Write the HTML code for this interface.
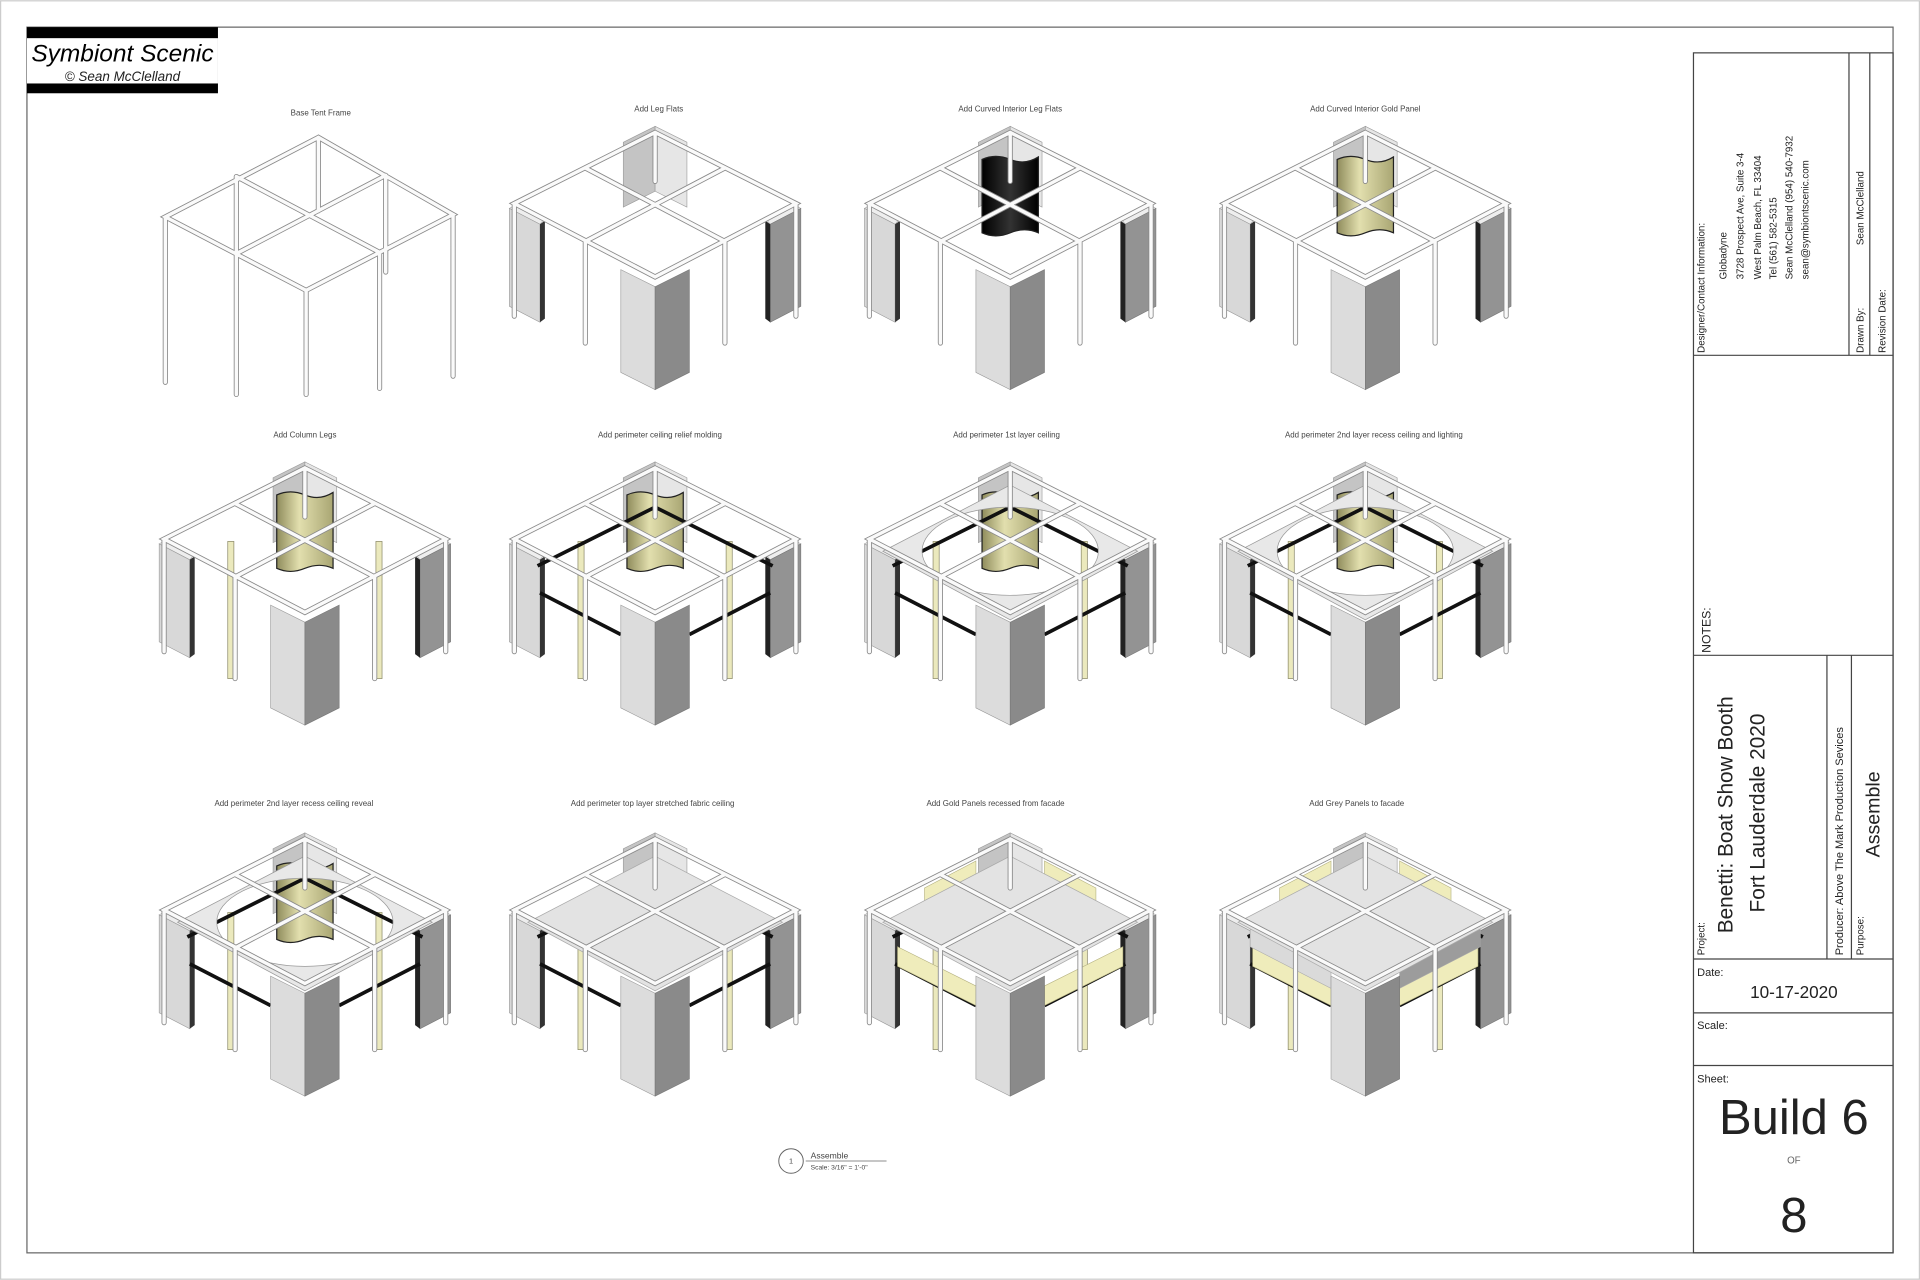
<!DOCTYPE html>
<html><head><meta charset="utf-8"><style>
html,body{margin:0;padding:0;background:#fff;}
svg{display:block;}
text{font-family:"Liberation Sans",sans-serif;}
</style></head><body>
<svg width="1920" height="1280" viewBox="0 0 1568 1045" xmlns="http://www.w3.org/2000/svg">
<defs>
<linearGradient id="gold" x1="0" x2="1"><stop offset="0" stop-color="#8f8c5c"/><stop offset=".4" stop-color="#e2dfae"/><stop offset="1" stop-color="#a9a673"/></linearGradient>
<linearGradient id="blk" x1="0" x2="1"><stop offset="0" stop-color="#000"/><stop offset=".5" stop-color="#333"/><stop offset="1" stop-color="#000"/></linearGradient>
<g id="backcol">
<polygon points="-26,8 0,-5 0,48 -26,61" fill="#c4c4c4" stroke="#999" stroke-width=".5"/>
<polygon points="0,-5 26,8 26,61 0,48" fill="#e6e6e6" stroke="#999" stroke-width=".5"/>
</g>
<g id="walls">
<polygon points="-119,62 -112,58 -90,70 -94,75" fill="#eee" stroke="#aaa" stroke-width=".5"/>
<polygon points="-119,62 -94,75 -94,155 -119,142" fill="#d8d8d8" stroke="#999" stroke-width=".5"/>
<polygon points="-94,75 -90,72 -90,152 -94,155" fill="#333"/>
<polygon points="119,62 112,58 90,70 94,75" fill="#eee" stroke="#aaa" stroke-width=".5"/>
<polygon points="94,75 119,62 119,142 94,155" fill="#939393" stroke="#777" stroke-width=".5"/>
<polygon points="94,75 90,72 90,152 94,155" fill="#222"/>
</g>
<g id="frontcol">
<polygon points="-28,112 0,126 0,210 -28,196" fill="#dcdcdc" stroke="#999" stroke-width=".5"/>
<polygon points="0,126 28,112 28,196 0,210" fill="#8a8a8a" stroke="#777" stroke-width=".5"/>
</g>
<path id="curve" d="M-23,22 Q-12,17 0,22 T23,20 L23,82 Q12,77 0,82 T-23,82 Z" stroke="#222" stroke-width="1"/>
<g id="goldlegs" fill="#ebe9bd" stroke="#8d8b6a" stroke-width=".6">
<rect x="-63" y="60" width="5" height="112"/>
<rect x="58" y="60" width="5" height="112"/>
</g>
<g id="beam" fill="none" stroke="#111" stroke-width="3">
<polyline points="-96,80 0,32 96,80"/>
<polyline points="-94,102 -28,136"/>
<polyline points="94,102 28,136"/>
</g>
<path id="ring" d="M0,14 L-104,68 L0,124 L104,68 Z M-72,68 A72,36 0 1 0 72,68 A72,36 0 1 0 -72,68 Z" fill="#e8e8e8" fill-rule="evenodd" stroke="#999" stroke-width=".6"/>
<polygon id="fabric" points="0,14 -104,68 0,124 104,68" fill="#e3e3e3" stroke="#aaa" stroke-width=".6"/>
<g id="goldfac" fill="#efecbb" stroke="#b4b180" stroke-width=".5">
<polygon points="-92,88 -28,120 -28,136 -92,104"/>
<polygon points="92,88 28,120 28,136 92,104"/>
<polygon points="-70,40 -28,18 -28,30 -70,52"/>
<polygon points="70,40 28,18 28,30 70,52"/>
</g>
<g id="greyfac" stroke="#aaa" stroke-width=".5">
<polygon points="-94,72 -28,106 -28,122 -94,88" fill="#dadada"/>
<polygon points="94,72 28,106 28,122 94,88" fill="#9c9c9c"/>
</g>
<g id="frame" fill="none" stroke-linecap="round">
<g stroke="#8a8a8a" stroke-width="4.2">
<path d="M0,0 L-115,58 L0,118 L115,58 Z M-57,29 L57,89 M57,29 L-57,89 M-115,58 V150 M115,58 V150 M-57,89 V172 M57,89 V172 M0,0 V40"/>
</g>
<g stroke="#fafafa" stroke-width="2.8">
<path d="M0,0 L-115,58 L0,118 L115,58 Z M-57,29 L57,89 M57,29 L-57,89 M-115,58 V150 M115,58 V150 M-57,89 V172 M57,89 V172 M0,0 V40"/>
</g>
</g>
<g id="frame1" fill="none" stroke-linecap="round">
<g stroke="#8a8a8a" stroke-width="4.2">
<path d="M10,0 L-115,65 L0,125 L120,63 Z M-57,32 L60,94 M65,31 L-57,95 M-115,65 V200 M120,63 V195 M-57,95 V210 M60,94 V205 M0,125 V210 M10,0 V60 M-57,32 V110 M65,31 V110"/>
</g>
<g stroke="#fafafa" stroke-width="2.8">
<path d="M10,0 L-115,65 L0,125 L120,63 Z M-57,32 L60,94 M65,31 L-57,95 M-115,65 V200 M120,63 V195 M-57,95 V210 M60,94 V205 M0,125 V210 M10,0 V60 M-57,32 V110 M65,31 V110"/>
</g>
</g>
</defs>

<!-- border -->
<rect x="22" y="22" width="1524" height="1001" fill="none" stroke="#666" stroke-width="1"/>
<rect x="0.5" y="0.5" width="1567" height="1044" fill="none" stroke="#ccc" stroke-width="1"/>

<!-- logo -->
<rect x="22" y="22" width="156" height="54" fill="#000"/>
<rect x="22" y="31" width="156" height="37" fill="#fff"/>
<text x="100" y="50" text-anchor="middle" font-family="Liberation Serif,serif" font-style="italic" font-size="20" fill="#000">Symbiont Scenic</text>
<text x="100" y="66" text-anchor="middle" font-family="Liberation Serif,serif" font-style="italic" font-size="11" fill="#222">© Sean McClelland</text>

<!-- labels -->
<g font-size="6.5" fill="#444" text-anchor="middle">
<text x="262" y="94">Base Tent Frame</text>
<text x="538" y="91">Add Leg Flats</text>
<text x="825" y="91">Add Curved Interior Leg Flats</text>
<text x="1115" y="91">Add Curved Interior Gold Panel</text>
<text x="249" y="357">Add Column Legs</text>
<text x="539" y="357">Add perimeter ceiling relief molding</text>
<text x="822" y="357">Add perimeter 1st layer ceiling</text>
<text x="1122" y="357">Add perimeter 2nd layer recess ceiling and lighting</text>
<text x="240" y="658">Add perimeter 2nd layer recess ceiling reveal</text>
<text x="533" y="658">Add perimeter top layer stretched fabric ceiling</text>
<text x="813" y="658">Add Gold Panels recessed from facade</text>
<text x="1108" y="658">Add Grey Panels to facade</text>
</g>

<!-- row 1 -->
<g transform="translate(250,112)"><use href="#frame1"/></g>
<g transform="translate(535,108)"><use href="#backcol"/><use href="#walls"/><use href="#frame"/><use href="#frontcol"/></g>
<g transform="translate(825,108)"><use href="#backcol"/><use href="#curve" fill="url(#blk)"/><use href="#walls"/><use href="#frame"/><use href="#frontcol"/></g>
<g transform="translate(1115,108)"><use href="#backcol"/><use href="#curve" fill="url(#gold)"/><use href="#walls"/><use href="#frame"/><use href="#frontcol"/></g>

<!-- row 2 -->
<g transform="translate(249,382)"><use href="#backcol"/><use href="#curve" fill="url(#gold)"/><use href="#walls"/><use href="#goldlegs"/><use href="#frame"/><use href="#frontcol"/></g>
<g transform="translate(535,382)"><use href="#backcol"/><use href="#curve" fill="url(#gold)"/><use href="#walls"/><use href="#goldlegs"/><use href="#beam"/><use href="#frame"/><use href="#frontcol"/></g>
<g transform="translate(825,382)"><use href="#backcol"/><use href="#curve" fill="url(#gold)"/><use href="#walls"/><use href="#goldlegs"/><use href="#beam"/><use href="#ring"/><use href="#frame"/><use href="#frontcol"/></g>
<g transform="translate(1115,382)"><use href="#backcol"/><use href="#curve" fill="url(#gold)"/><use href="#walls"/><use href="#goldlegs"/><use href="#beam"/><use href="#ring"/><use href="#frame"/><use href="#frontcol"/></g>

<!-- row 3 -->
<g transform="translate(249,685)"><use href="#backcol"/><use href="#curve" fill="url(#gold)"/><use href="#walls"/><use href="#goldlegs"/><use href="#beam"/><use href="#ring"/><use href="#frame"/><use href="#frontcol"/></g>
<g transform="translate(535,685)"><use href="#backcol"/><use href="#walls"/><use href="#goldlegs"/><use href="#beam"/><use href="#fabric"/><use href="#frame"/><use href="#frontcol"/></g>
<g transform="translate(825,685)"><use href="#backcol"/><use href="#walls"/><use href="#goldlegs"/><use href="#beam"/><use href="#goldfac"/><use href="#fabric"/><use href="#frame"/><use href="#frontcol"/></g>
<g transform="translate(1115,685)"><use href="#backcol"/><use href="#walls"/><use href="#goldlegs"/><use href="#beam"/><use href="#goldfac"/><use href="#greyfac"/><use href="#fabric"/><use href="#frame"/><use href="#frontcol"/></g>

<!-- callout -->
<circle cx="646" cy="948" r="10" fill="none" stroke="#666" stroke-width=".8"/>
<text x="646" y="950" font-size="6" text-anchor="middle" fill="#444">1</text>
<line x1="658" y1="948" x2="724" y2="948" stroke="#666" stroke-width=".6"/>
<text x="662" y="946" font-size="7" fill="#444">Assemble</text>
<text x="662" y="955" font-size="5.5" fill="#444">Scale: 3/16" = 1'-0"</text>

<!-- title block -->
<g fill="none" stroke="#444" stroke-width="1">
<rect x="1383" y="43" width="163" height="980"/>
<line x1="1383" y1="290" x2="1546" y2="290"/>
<line x1="1510" y1="43" x2="1510" y2="290"/>
<line x1="1527" y1="43" x2="1527" y2="290"/>
<line x1="1383" y1="535" x2="1546" y2="535"/>
<line x1="1383" y1="783" x2="1546" y2="783"/>
<line x1="1492" y1="535" x2="1492" y2="783"/>
<line x1="1512" y1="535" x2="1512" y2="783"/>
<line x1="1383" y1="827" x2="1546" y2="827"/>
<line x1="1383" y1="870" x2="1546" y2="870"/>
</g>
<g fill="#222" font-size="8">
<text transform="translate(1392,288) rotate(-90)">Designer/Contact Information:</text>
<text transform="translate(1410,228) rotate(-90)">Globadyne</text>
<text transform="translate(1424,228) rotate(-90)">3728 Prospect Ave, Suite 3-4</text>
<text transform="translate(1438,228) rotate(-90)">West Palm Beach, FL 33404</text>
<text transform="translate(1451,228) rotate(-90)">Tel (561) 582-5315</text>
<text transform="translate(1464,228) rotate(-90)">Sean McClelland (954) 540-7932</text>
<text transform="translate(1477,228) rotate(-90)">sean@symbiontscenic.com</text>
<text transform="translate(1522,288) rotate(-90)">Drawn By:</text>
<text transform="translate(1522,200) rotate(-90)">Sean McClelland</text>
<text transform="translate(1540,288) rotate(-90)">Revision Date:</text>
<text transform="translate(1397,533) rotate(-90)" font-size="10">NOTES:</text>
<text transform="translate(1392,780) rotate(-90)">Project:</text>
<text transform="translate(1415,762) rotate(-90)" font-size="17">Benetti: Boat Show Booth</text>
<text transform="translate(1441,745) rotate(-90)" font-size="17">Fort Lauderdale 2020</text>
<text transform="translate(1505,780) rotate(-90)" font-size="9">Producer: Above The Mark Production Sevices</text>
<text transform="translate(1522,780) rotate(-90)">Purpose:</text>
<text transform="translate(1535,700) rotate(-90)" font-size="16">Assemble</text>
<text x="1386" y="797" font-size="9">Date:</text>
<text x="1465" y="815" font-size="14" text-anchor="middle">10-17-2020</text>
<text x="1386" y="840" font-size="9">Scale:</text>
<text x="1386" y="884" font-size="9">Sheet:</text>
<text x="1465" y="926" font-size="40" text-anchor="middle">Build 6</text>
<text x="1465" y="950" font-size="8" text-anchor="middle" fill="#666">OF</text>
<text x="1465" y="1006" font-size="40" text-anchor="middle">8</text>
</g>
</svg>
</body></html>
